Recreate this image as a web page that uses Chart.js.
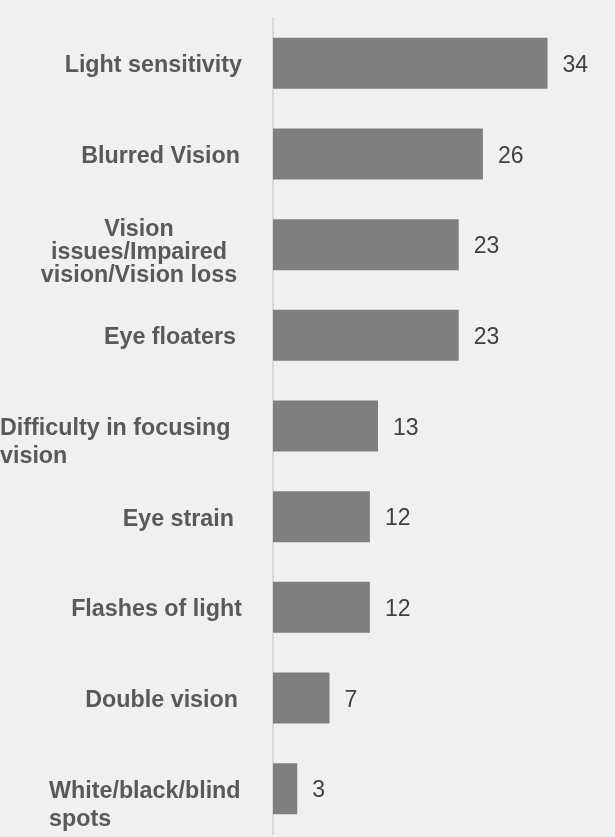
<!DOCTYPE html>
<html>
<head>
<meta charset="utf-8">
<script src="https://cdn.jsdelivr.net/npm/chart.js@4"></script>
<style>
  html, body { margin: 0; padding: 0; background: #f0f0f0; }
  #wrap { width: 615px; height: 837px; position: relative; }
</style>
</head>
<body>
<div id="wrap"><canvas id="myChart"></canvas></div>
<script>
// categories, top to bottom
const symptoms = [
  ['Light sensitivity'],
  ['Blurred Vision'],
  ['Vision', 'issues/Impaired', 'vision/Vision loss'],
  ['Eye floaters'],
  ['Difficulty in focusing', 'vision'],
  ['Eye strain'],
  ['Flashes of light'],
  ['Double vision'],
  ['White/black/blind', 'spots']
];
const counts = [34, 26, 23, 23, 13, 12, 12, 7, 3];

(function(){
  const FONT = '"Liberation Sans", Arial, sans-serif';

  // how each label block sits next to its bar: align, anchor x, first baseline offset, line gap
  const labelLook = [
    { align: 'right', x: 242, dy: 9, gap: 24 },
    { align: 'right', x: 240, dy: 9, gap: 24 },
    { align: 'center', x: 139, dy: -9, gap: 23.3 },
    { align: 'right', x: 236, dy: 9, gap: 24 },
    { align: 'left', x: 0, dy: 9, gap: 28 },
    { align: 'right', x: 234, dy: 9, gap: 24 },
    { align: 'right', x: 242, dy: 9, gap: 24 },
    { align: 'right', x: 238, dy: 9, gap: 24 },
    { align: 'left', x: 49, dy: 9, gap: 28 }
  ];

  const labelPlugin = {
    id: 'labels',
    afterDatasetsDraw(chart) {
      const ctx = chart.ctx;
      const y = chart.scales.y;
      const bars = chart.getDatasetMeta(0).data;
      ctx.save();
      ctx.textBaseline = 'alphabetic';

      // category labels
      ctx.font = 'bold 23.3px ' + FONT;
      ctx.fillStyle = '#595959';
      symptoms.forEach((lines, i) => {
        const look = labelLook[i];
        const cy = y.getPixelForValue(i);
        ctx.textAlign = look.align;
        lines.forEach((ln, j) => {
          ctx.fillText(ln, look.x, cy + look.dy + j * look.gap);
        });
      });

      // value labels
      ctx.font = '23px ' + FONT;
      ctx.fillStyle = '#404040';
      ctx.textAlign = 'left';
      bars.forEach((bar, i) => {
        ctx.fillText(String(counts[i]), bar.x + 15, bar.y + 8.5);
      });
      ctx.restore();
    }
  };

  const data = {
    labels: symptoms.map(s => s.join(' ')),
    datasets: [{
      data: counts,
      backgroundColor: '#7f7f7f',
      borderWidth: 0,
      barPercentage: 0.563,
      categoryPercentage: 1
    }]
  };

  const config = {
    type: 'bar',
    data,
    options: {
      indexAxis: 'y',
      responsive: true,
      maintainAspectRatio: false,
      animation: false,
      layout: { padding: { left: 265, top: 18, bottom: 3, right: 19 } },
      plugins: {
        legend: { display: false },
        tooltip: { enabled: false }
      },
      scales: {
        x: { display: false, min: 0, max: 40 },
        y: {
          display: true,
          grid: { display: false },
          ticks: { display: false },
          border: { display: true, color: '#d9d9d9', width: 2 }
        }
      }
    },
    plugins: [labelPlugin]
  };

  new Chart(document.getElementById('myChart'), config);
})();
</script>
</body>
</html>
